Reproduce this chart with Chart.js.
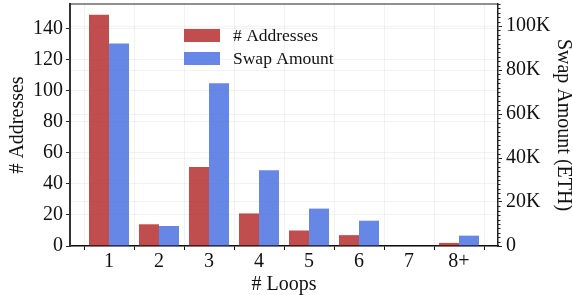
<!DOCTYPE html>
<html>
<head>
<meta charset="utf-8">
<script src="https://cdn.jsdelivr.net/npm/chart.js@4"></script>
<style>
  html, body { margin: 0; padding: 0; background: #fff; }
  canvas { display: block; }
</style>
</head>
<body>
<canvas id="myChart" width="572" height="295"></canvas>
<script>
// data
const loops = ['1', '2', '3', '4', '5', '6', '7', '8+'];
const addresses = [149, 14, 51, 21, 10, 7, 0, 2];
const swapAmount = [92100, 9100, 74000, 34400, 17000, 11500, 0, 4700];
const leftTicks = [0, 20, 40, 60, 80, 100, 120, 140];
const rightTicks = [0, 20000, 40000, 60000, 80000, 100000];

const FONT = "'Liberation Serif', 'DejaVu Serif', serif";
const gridColor = 'rgba(0,0,0,0.05)';

let ctx = document.getElementById('myChart').getContext('2d');

// legend drawn inside the plot area, plus top border and minor ticks on the right axis
const extras = {
  id: 'extras',
  afterDraw(chart) {
    const c = chart.ctx;
    const a = chart.chartArea;
    c.save();
    // top spine
    c.strokeStyle = '#222';
    c.lineWidth = 1.2;
    c.beginPath();
    c.moveTo(a.left, a.top);
    c.lineTo(a.right, a.top);
    c.stroke();
    // minor ticks every 2K
    const y1 = chart.scales.y1;
    c.lineWidth = 1;
    c.beginPath();
    for (let v = 0; v <= y1.max; v += 2000) {
      if (v % 20000 === 0) continue;
      const py = Math.round(y1.getPixelForValue(v)) + 0.5;
      c.moveTo(a.right, py);
      c.lineTo(a.right + 2.5, py);
    }
    c.stroke();
    // legend
    c.font = '17.5px ' + FONT;
    c.textBaseline = 'middle';
    chart.data.datasets.forEach((ds, i) => {
      const x = a.left + 114;
      const y = a.top + 25 + i * 23;
      c.fillStyle = ds.backgroundColor;
      c.fillRect(x, y, 36, 13);
      c.fillStyle = '#111';
      c.fillText(ds.label, x + 49, y + 7);
    });
    c.restore();
  }
};

function noPad(s) {
  s.paddingTop = 0;
  s.paddingBottom = 0;
}

const config = {
  type: 'bar',
  data: {
    datasets: [{
      label: '# Addresses',
      data: addresses.map((v, i) => ({ x: i, y: v })),
      backgroundColor: 'rgba(178,34,34,0.8)',
      yAxisID: 'y',
      categoryPercentage: 0.8,
      barPercentage: 1.0
    }, {
      label: 'Swap Amount',
      data: swapAmount.map((v, i) => ({ x: i, y: v })),
      backgroundColor: 'rgba(65,105,225,0.8)',
      yAxisID: 'y1',
      categoryPercentage: 0.8,
      barPercentage: 1.0
    }]
  },
  options: {
    responsive: false,
    animation: false,
    layout: { padding: { top: 4, left: 0, right: 0, bottom: 0 } },
    plugins: {
      legend: { display: false },
      tooltip: { enabled: false }
    },
    scales: {
      x: {
        type: 'linear',
        offset: false,
        min: -0.78,
        max: 7.78,
        afterBuildTicks: (s) => { s.ticks = loops.map((_, i) => ({ value: i })); },
        afterFit: (s) => { s.height = 49; s.paddingLeft = 0; s.paddingRight = 0; },
        ticks: {
          callback: (v) => loops[v],
          color: '#111',
          font: { family: FONT, size: 20 },
          padding: 0,
          maxRotation: 0
        },
        grid: { color: gridColor, tickColor: '#111', tickLength: 4 },
        border: { color: '#111', width: 1.5 },
        title: {
          display: true,
          text: '# Loops',
          color: '#111',
          font: { family: FONT, size: 20, lineHeight: 1 },
          padding: { top: 0, bottom: 0 }
        }
      },
      y: {
        position: 'left',
        min: 0,
        max: 156,
        afterBuildTicks: (s) => { s.ticks = leftTicks.map(v => ({ value: v })); },
        afterFit: (s) => { s.width = 70; noPad(s); },
        ticks: {
          color: '#111',
          font: { family: FONT, size: 20 },
          padding: 3
        },
        grid: { color: gridColor, tickColor: '#222', tickLength: 4 },
        border: { color: '#333', width: 2 },
        title: {
          display: true,
          text: '# Addresses',
          color: '#111',
          font: { family: FONT, size: 20, lineHeight: 1.2 },
          padding: { top: 6, bottom: 0 }
        }
      },
      y1: {
        position: 'right',
        min: 0,
        max: 110000,
        afterBuildTicks: (s) => { s.ticks = rightTicks.map(v => ({ value: v })); },
        afterFit: (s) => { s.width = 74; noPad(s); },
        ticks: {
          color: '#111',
          font: { family: FONT, size: 20 },
          padding: 4,
          callback: (v) => v === 0 ? '0' : (v / 1000) + 'K'
        },
        grid: { color: gridColor, tickColor: '#222', tickLength: 4 },
        border: { color: '#222', width: 1.5 },
        title: {
          display: true,
          text: 'Swap Amount (ETH)',
          color: '#111',
          font: { family: FONT, size: 20, lineHeight: 0.9 },
          padding: { top: 0, bottom: 0 }
        }
      }
    }
  },
  plugins: [extras]
};

let myChart = new Chart(ctx, config);
</script>
</body>
</html>
